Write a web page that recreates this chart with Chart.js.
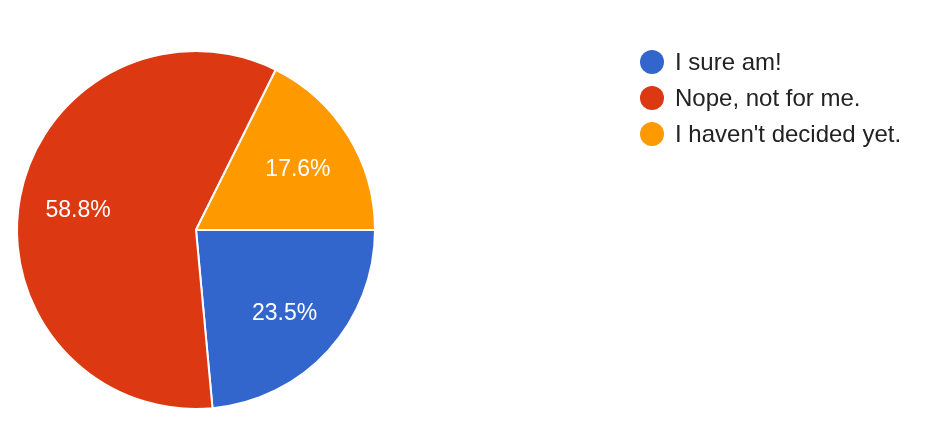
<!DOCTYPE html>
<html>
<head>
<meta charset="utf-8">
<script src="https://cdn.jsdelivr.net/npm/chart.js@4"></script>
<style>
  html, body { margin: 0; padding: 0; background: #fff; }
  #wrap { position: relative; width: 936px; height: 432px; }
  #legend { position: absolute; left: 640px; top: 44px; font-family: "Liberation Sans", Arial, sans-serif; font-size: 24px; color: #222; }
  .item { display: flex; align-items: center; height: 36px; }
  .dot { width: 24px; height: 24px; border-radius: 50%; margin-right: 11px; flex: none; }
</style>
</head>
<body>
<div id="wrap">
  <canvas id="pie" width="936" height="432"></canvas>
  <div id="legend"></div>
</div>
<script>
// 응답 데이터
const answers = ['I sure am!', 'Nope, not for me.', "I haven't decided yet."];
const counts = [4, 10, 3];
const colors = ['#3366CC', '#DC3912', '#FF9900'];

// 조각 안에 퍼센트 표시
const pctLabels = {
    id: 'pctLabels',
    afterDatasetsDraw(chart) {
        const ctx = chart.ctx;
        const total = counts.reduce((a, b) => a + b, 0);
        ctx.save();
        ctx.fillStyle = '#fff';
        ctx.font = '23px "Liberation Sans", Arial, sans-serif';
        ctx.textAlign = 'center';
        ctx.textBaseline = 'middle';
        chart.getDatasetMeta(0).data.forEach((arc, i) => {
            const mid = (arc.startAngle + arc.endAngle) / 2;
            const r = arc.outerRadius * 0.67;
            const x = arc.x + Math.cos(mid) * r;
            const y = arc.y + Math.sin(mid) * r + 3;
            ctx.fillText((counts[i] / total * 100).toFixed(1) + '%', x, y);
        });
        ctx.restore();
    }
};

new Chart(document.getElementById('pie'), {
    type: 'pie',
    data: {
        labels: answers,
        datasets: [{
            data: counts,
            backgroundColor: colors,
            borderColor: '#fff',
            borderWidth: 2
        }]
    },
    options: {
        responsive: false,
        animation: false,
        rotation: 90,
        layout: { padding: { left: 16, right: 560, top: 50, bottom: 22 } },
        plugins: {
            legend: { display: false },
            tooltip: { enabled: false }
        }
    },
    plugins: [pctLabels]
});

// 범례
const legend = document.getElementById('legend');
answers.forEach((name, i) => {
    const row = document.createElement('div');
    row.className = 'item';
    row.innerHTML = '<span class="dot" style="background:' + colors[i] + '"></span><span>' + name + '</span>';
    legend.appendChild(row);
});
</script>
</body>
</html>
